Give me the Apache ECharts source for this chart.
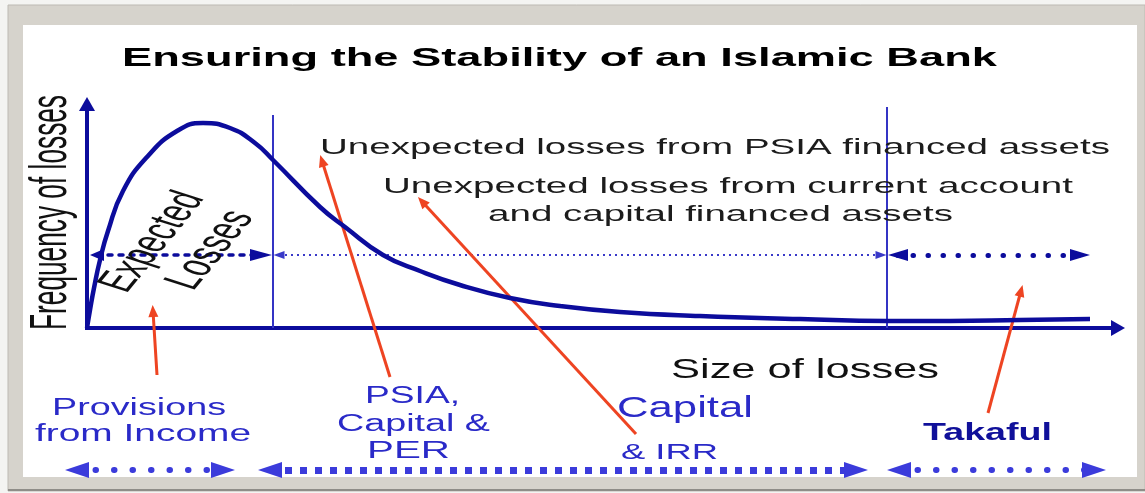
<!DOCTYPE html>
<html><head><meta charset="utf-8">
<script src="https://cdn.jsdelivr.net/npm/echarts@6/dist/echarts.min.js"></script>
<style>html,body{margin:0;padding:0;background:#fff}#c{width:1145px;height:493px}</style>
</head><body><div id="c"></div>
<script>
// ---- Loss distribution curve (chart units: size of losses vs frequency of losses) ----
const lossSize = [0, 0.3, 0.7, 1.3, 2.1, 3.6, 6, 9, 11.6, 14.3, 16.8, 18.6, 23.3, 25.8, 29.6, 33.3, 37.3, 42.3, 47.3, 53.3, 61.3, 71.3, 80, 86.3, 93.3, 100.3];
const lossFreq = [0, 7.2, 16, 27.2, 38.8, 54.8, 68.4, 78.8, 82, 80, 74, 67.2, 48.4, 40.4, 29.2, 22.8, 17.2, 12, 8.8, 6.4, 4.8, 3.6, 2.8, 2.8, 3.2, 3.6];

// thresholds (vertical lines): expected-loss limit, unexpected-loss limit
const thresholds = [18.6, 80];
const thresholdTops = [85.2, 88.4];

// horizontal range bands at frequency level
const bandLevel = 29.2;
const bandRanges = [[1.0, 17.4], [19.2, 79.4], [81.1, 99.3]];
// coverage bands under the axis
const coverLevel = -56.8;
const coverRanges = [[-1.0, 13.6], [18.3, 76.9], [81.2, 100.7]];

// pointer arrows [from, to]
const pointers = [
  [[7.0, -18.8], [6.6, 6.8]],
  [[30.3, -19.6], [23.5, 66.9]],
  [[54.9, -42.4], [33.5, 50.6]],
  [[90.1, -34.0], [93.4, 14.9]]
];

// texts
const titleText = 'Ensuring the Stability of an Islamic Bank';
const yName = 'Frequency of losses';
const xName = 'Size of losses';
const ulPSIA = 'Unexpected losses from PSIA financed assets';
const ulCA = ['Unexpected losses from current account', 'and capital financed assets'];
const elText = ['Expected', 'Losses'];
const provText = ['Provisions', 'from Income'];
const psiaText = ['PSIA,', 'Capital &', 'PER'];
const capText = ['Capital', '& IRR'];
const takText = 'Takaful';

const NAVY = '#0c0c9c';
const BLUE = '#2a2ac8';
const BRIGHT = '#3b3bdb';
const RED = '#ee4422';

const mctx = document.createElement('canvas').getContext('2d');
function measure(str, font) { mctx.font = font; return mctx.measureText(str).width; }
function hText(str, left, right, cy, size, weight, color) {
  const font = weight + ' ' + size + 'px "Liberation Sans", Arial, sans-serif';
  const w = measure(str, font);
  return { type: 'text', x: left, y: cy + 2, scaleX: (right - left) / w, z: 20, silent: true,
    style: { text: str, font: font, fill: color, textAlign: 'left', verticalAlign: 'middle', textVerticalAlign: 'middle' } };
}
function rText(str, cx, cy, rotDeg, len, align, stretch) {
  const font = '32px "Liberation Sans Narrow", "Liberation Sans", Arial, sans-serif';
  const w = measure(str, font);
  return { type: 'group', x: cx, y: cy, scaleX: stretch, z: 20, silent: true, children: [
    { type: 'text', rotation: rotDeg * Math.PI / 180, scaleX: len / w, z: 20,
      style: { text: str, font: font, fill: '#111', textAlign: align, verticalAlign: 'middle', textVerticalAlign: 'middle' } }
  ] };
}

function seg(a, b, sA, sB) {
  return [
    { coord: a, symbol: sA ? 'triangle' : 'none', symbolSize: sA || 1 },
    { coord: b, symbol: sB ? 'triangle' : 'none', symbolSize: sB || 1 }
  ];
}
function mlSeries(z, lineStyle, data) {
  return { type: 'line', data: [], z: z, silent: true, animation: false,
    markLine: { silent: true, animation: false, label: { show: false }, emphasis: { disabled: true },
      symbol: ['none', 'none'], lineStyle: lineStyle, data: data } };
}

const chart = echarts.init(document.getElementById('c'), null, { renderer: 'canvas' });

const graphics = [
  { type: 'rect', z: -30, silent: true, shape: { x: 0, y: 0, width: 1145, height: 493 }, style: { fill: '#f4f4f2' } },
  { type: 'rect', z: -29, silent: true, shape: { x: 8, y: 5, width: 1137, height: 486 }, style: { fill: '#d6d3cc', stroke: '#bdbab3', lineWidth: 1 } },
  { type: 'rect', z: -28, silent: true, shape: { x: 8, y: 489, width: 1137, height: 2 }, style: { fill: '#8f8d88' } },
  { type: 'rect', z: -27, silent: true, shape: { x: 23, y: 25, width: 1114, height: 452 }, style: { fill: '#ffffff' } },
  hText(titleText, 122, 997, 57, 26, 'bold', '#000'),
  hText(ulPSIA, 320, 1110, 146, 22, 'normal', '#1c1c1c'),
  hText(ulCA[0], 383, 1073, 185, 22, 'normal', '#1c1c1c'),
  hText(ulCA[1], 488, 953, 213, 22, 'normal', '#1c1c1c'),
  hText(xName, 671, 939, 369, 27, 'normal', '#111'),
  hText(provText[0], 52, 226, 407, 23, 'normal', BLUE),
  hText(provText[1], 35, 251, 433, 23, 'normal', BLUE),
  hText(psiaText[0], 365, 460, 395, 23, 'normal', BLUE),
  hText(psiaText[1], 337, 490, 423, 23, 'normal', BLUE),
  hText(psiaText[2], 367, 450, 450, 23, 'normal', BLUE),
  hText(capText[0], 617, 753, 407, 29, 'normal', BLUE),
  hText(capText[1], 621, 718, 451, 22, 'normal', BLUE),
  hText(takText, 923, 1052, 432, 23, 'bold', '#10109a'),
  rText(yName, 52, 330, 90, 235, 'left', 1.6),
  rText(elText[0], 153, 242, 63, 108, 'center', 1.6),
  rText(elText[1], 211, 250, 63, 84, 'center', 1.6)
];

const option = {
  animation: false,
  backgroundColor: '#ffffff',
  grid: { left: 0, right: 0, top: 0, bottom: 0 },
  xAxis: { type: 'value', min: -8.7, max: 105.8, show: false },
  yAxis: { type: 'value', min: -66, max: 131.2, show: false },
  graphic: { elements: graphics },
  series: [
    // axes
    mlSeries(4, { color: NAVY, width: 4, type: 'solid' }, [
      seg([0, -0.8], [0, 89.6], null, [16, 14]),
      seg([-0.2, 0], [103.1, 0], null, [16, 14])
    ]),
    // thresholds
    mlSeries(3, { color: '#3434c4', width: 2, type: 'solid' },
      thresholds.map((t, i) => seg([t, 0], [t, thresholdTops[i]], null, null))),
    // curve
    { type: 'line', z: 5, silent: true, animation: false, showSymbol: false, symbol: 'none',
      smooth: 0.5,
      lineStyle: { color: NAVY, width: 4.5 },
      data: lossSize.map((x, i) => [x, lossFreq[i]]) },
    // band A (expected losses)
    mlSeries(6, { color: NAVY, width: 3.5, type: [4, 7], cap: 'round' }, [
      seg([bandRanges[0][0], bandLevel], [bandRanges[0][1], bandLevel], [12, 14], [12, 22])
    ]),
    // band B
    mlSeries(6, { color: '#3a3ac8', width: 2, type: [2, 4], cap: 'butt' }, [
      seg([bandRanges[1][0], bandLevel], [bandRanges[1][1], bandLevel], [8, 11], [8, 11])
    ]),
    // band C
    mlSeries(6, { color: NAVY, width: 5, type: [0.5, 14.5], cap: 'round' }, [
      seg([bandRanges[2][0], bandLevel], [bandRanges[2][1], bandLevel], [12, 20], [12, 20])
    ]),
    // coverage dots
    mlSeries(6, { color: BRIGHT, width: 6, type: [0.5, 18], cap: 'round' }, [
      seg([coverRanges[0][0], coverLevel], [coverRanges[0][1], coverLevel], [16, 24], [16, 24]),
      seg([coverRanges[2][0], coverLevel], [coverRanges[2][1], coverLevel], [16, 24], [16, 24])
    ]),
    // coverage squares
    mlSeries(6, { color: BRIGHT, width: 7, type: [7, 8], cap: 'butt' }, [
      seg([coverRanges[1][0], coverLevel], [coverRanges[1][1], coverLevel], [16, 24], [16, 24])
    ]),
    // red pointers
    mlSeries(8, { color: RED, width: 3, type: 'solid' },
      pointers.map(p => seg(p[0], p[1], null, [10, 12])))
  ]
};
chart.setOption(option);
</script>
</body></html>
